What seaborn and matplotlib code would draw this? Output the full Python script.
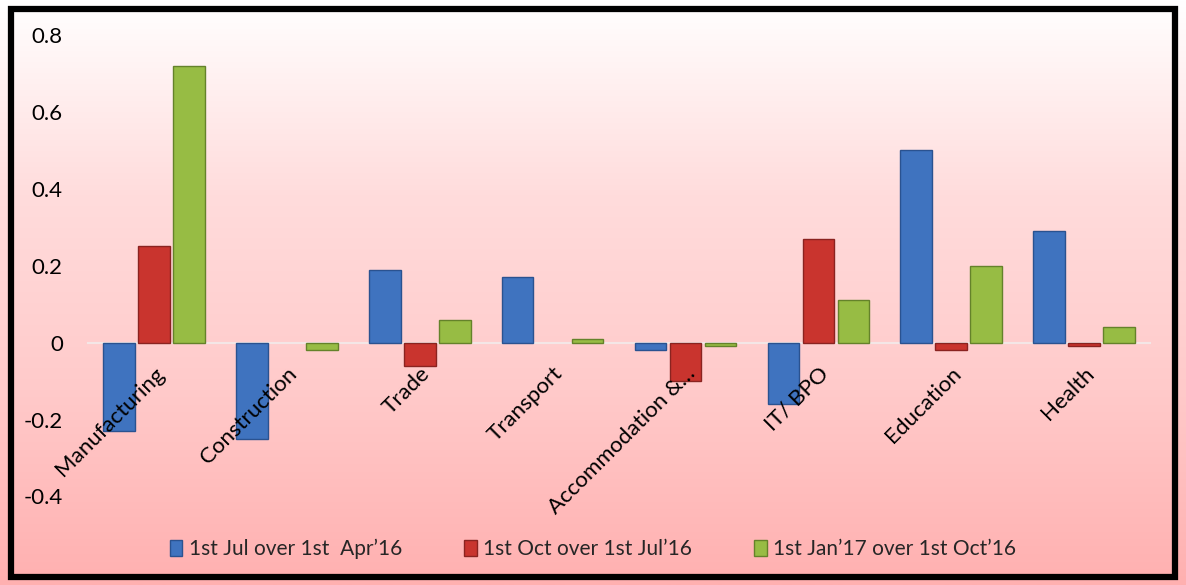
import numpy as np
import pandas as pd
import seaborn as sns
import matplotlib.pyplot as plt
from matplotlib.patches import Rectangle
from matplotlib.colors import LinearSegmentedColormap

# data
sectors = ["Manufacturing", "Construction", "Trade", "Transport",
           "Accommodation &…", "IT/ BPO", "Education", "Health"]
periods = ["1st Jul over 1st  Apr\u201916", "1st Oct over 1st Jul\u201916",
           "1st Jan\u201917 over 1st Oct\u201916"]
jul_apr = [-0.23, -0.25, 0.19, 0.17, -0.02, -0.16, 0.50, 0.29]
oct_jul = [0.25, 0.00, -0.06, 0.00, -0.10, 0.27, -0.02, -0.01]
jan_oct = [0.72, -0.02, 0.06, 0.01, -0.01, 0.11, 0.20, 0.04]

colors = ["#3f73bf", "#c9342e", "#97bc44"]
edges = ["#2a5290", "#8a2320", "#64822a"]

df = pd.DataFrame({
    "sector": sectors * 3,
    "period": [periods[0]] * 8 + [periods[1]] * 8 + [periods[2]] * 8,
    "value": jul_apr + oct_jul + jan_oct,
})

sns.set_style("white")
plt.rcParams["font.family"] = ["Lato", "DejaVu Sans"]

fig = plt.figure(figsize=(11.86, 5.85), dpi=100)

# pink gradient background with black frame
bg = fig.add_axes([0, 0, 1, 1], zorder=0)
grad = np.linspace(0, 1, 256).reshape(-1, 1)
cmap = LinearSegmentedColormap.from_list("bg", ["#ffffff", "#ffdcdc", "#ffcaca", "#ffb0b0"])
bg.imshow(grad, aspect="auto", cmap=cmap, extent=[0, 1, 0, 1], origin="upper")
bg.add_patch(Rectangle((0.009, 0.013), 0.982, 0.972, fill=False, lw=4.5,
                       edgecolor="black", transform=bg.transAxes))
bg.set_xlim(0, 1)
bg.set_ylim(0, 1)
bg.axis("off")

ax = fig.add_axes([0.074, 0.125, 0.896, 0.835], zorder=1)
ax.patch.set_alpha(0)
sns.barplot(data=df, x="sector", y="value", hue="period", palette=colors,
            saturation=1, width=0.79, gap=0.1, ax=ax, legend=False)

for i, cont in enumerate(ax.containers):
    for bar in cont:
        bar.set_edgecolor(edges[i])
        bar.set_linewidth(1.0 if bar.get_height() != 0 else 0)

ax.set_axisbelow(False)
ax.set_ylim(-0.44, 0.83)
ax.set_xlim(-0.5, 7.5)
ax.set_yticks([-0.4, -0.2, 0, 0.2, 0.4, 0.6, 0.8])
ax.set_yticklabels(["-0.4", "-0.2", "0", "0.2", "0.4", "0.6", "0.8"], fontsize=16)
ax.tick_params(axis="y", length=0, pad=18, labelcolor="black")
ax.tick_params(axis="x", length=0, pad=15, labelcolor="black")
ax.set_xlabel("")
ax.set_ylabel("")
for s in ["top", "right", "left"]:
    ax.spines[s].set_visible(False)
ax.spines["bottom"].set_position(("data", 0))
ax.spines["bottom"].set_color("#f4e6e6")
ax.spines["bottom"].set_linewidth(1.5)
ax.spines["bottom"].set_zorder(0.5)
ax.set_xticks(range(8))
ax.set_xticklabels(sectors, rotation=45, ha="right", rotation_mode="anchor", fontsize=16)

handles = [Rectangle((0, 0), 1, 1, facecolor=c, edgecolor=e) for c, e in zip(colors, edges)]
fig.legend(handles, periods, loc="lower center", bbox_to_anchor=(0.5, 0.012), ncol=3,
           frameon=False, fontsize=15, handlelength=0.6, handleheight=0.8,
           handletextpad=0.3, columnspacing=3.0)

fig.savefig("out.png", dpi=100)
